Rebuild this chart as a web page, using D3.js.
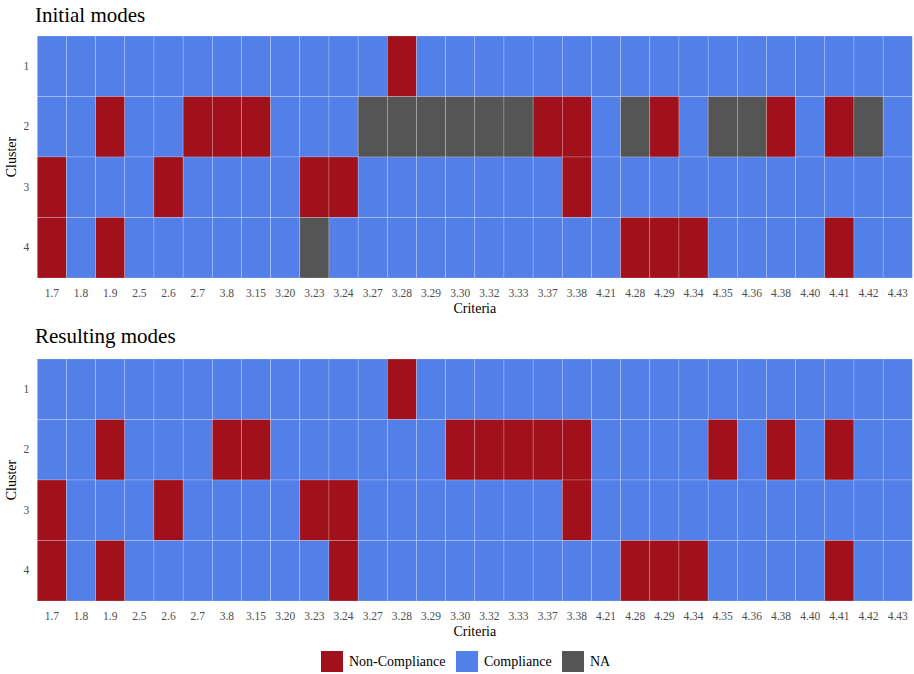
<!DOCTYPE html>
<html>
<head>
<meta charset="utf-8">
<script src="https://cdn.jsdelivr.net/npm/d3@7"></script>
<style>
  html, body { margin: 0; padding: 0; background: #fff; }
  svg text { font-family: "Liberation Serif", "DejaVu Serif", serif; }
</style>
</head>
<body>
<svg id="chart" width="914" height="674"></svg>
<script>
// Criteria along the x axis
const criteria = ["1.7","1.8","1.9","2.5","2.6","2.7","3.8","3.15","3.20","3.23","3.24","3.27","3.28","3.29","3.30","3.32","3.33","3.37","3.38","4.21","4.28","4.29","4.34","4.35","4.36","4.38","4.40","4.41","4.42","4.43"];
const clusters = ["1","2","3","4"];

// Status codes: N = Non-Compliance, C = Compliance, A = NA
const initialModes = [
  "CCCCCCCCCCCCNCCCCCCCCCCCCCCCCC",
  "CCNCCNNNCCCAAAAAANNCANCAANCNAC",
  "NCCCNCCCCNNCCCCCCCNCCCCCCCCCCC",
  "NCNCCCCCCACCCCCCCCCCNNNCCCCNCC"
];
const resultingModes = [
  "CCCCCCCCCCCCNCCCCCCCCCCCCCCCCC",
  "CCNCCCNNCCCCCCNNNNNCCCCNCNCNCC",
  "NCCCNCCCCNNCCCCCCCNCCCCCCCCCCC",
  "NCNCCCCCCCNCCCCCCCCCNNNCCCCNCC"
];

const statusKeys = ["N", "C", "A"];
const statusLabels = ["Non-Compliance", "Compliance", "NA"];
const statusColors = ["#A0111B", "#527FE8", "#555555"];

const color = d3.scaleOrdinal().domain(statusKeys).range(statusColors);
const svg = d3.select("#chart");

const left = 37.3, right = 912.3;
const x = d3.scaleBand().domain(criteria).range([left, right]).padding(0);

function panel(title, rows, top, bottom, titleY) {
  const y = d3.scaleBand().domain(clusters).range([top, bottom]).padding(0);
  const g = svg.append("g");

  g.append("text").attr("x", 35).attr("y", titleY)
    .attr("font-size", 21).attr("fill", "#000").text(title);

  const cells = [];
  rows.forEach((row, i) => {
    criteria.forEach((c, j) => cells.push({ cluster: clusters[i], crit: c, s: row[j] }));
  });

  g.selectAll("rect.cell").data(cells).join("rect")
    .attr("class", "cell")
    .attr("x", d => x(d.crit)).attr("y", d => y(d.cluster))
    .attr("width", x.bandwidth()).attr("height", y.bandwidth())
    .attr("fill", d => color(d.s))
    .attr("stroke", "rgba(255,255,255,0.35)").attr("stroke-width", 0.6);

  const xa = g.append("g").attr("transform", `translate(0,${bottom})`)
    .call(d3.axisBottom(x).tickSize(0).tickPadding(11));
  xa.select(".domain").remove();
  xa.selectAll("text").attr("font-size", 11.5).attr("fill", "#4d4d4d")
    .style("font-family", '"Liberation Serif", "DejaVu Serif", serif');

  const ya = g.append("g").attr("transform", `translate(${left},0)`)
    .call(d3.axisLeft(y).tickSize(0).tickPadding(8));
  ya.select(".domain").remove();
  ya.selectAll("text").attr("font-size", 11.5).attr("fill", "#4d4d4d")
    .style("font-family", '"Liberation Serif", "DejaVu Serif", serif');

  g.append("text").attr("x", (left + right) / 2).attr("y", bottom + 35)
    .attr("text-anchor", "middle").attr("font-size", 14).attr("fill", "#000").text("Criteria");

  g.append("text")
    .attr("transform", `translate(16,${(top + bottom) / 2}) rotate(-90)`)
    .attr("text-anchor", "middle").attr("font-size", 14).attr("fill", "#000").text("Cluster");
}

panel("Initial modes", initialModes, 36, 278, 22);
panel("Resulting modes", resultingModes, 359, 601, 343);

// Legend
const legend = svg.append("g");
const legendX = [321, 456, 562];
statusKeys.forEach((k, i) => {
  legend.append("rect").attr("x", legendX[i]).attr("y", 651)
    .attr("width", 22).attr("height", 21).attr("fill", color(k));
  legend.append("text").attr("x", legendX[i] + 28).attr("y", 666)
    .attr("font-size", 14).attr("fill", "#000").text(statusLabels[i]);
});
</script>
</body>
</html>
